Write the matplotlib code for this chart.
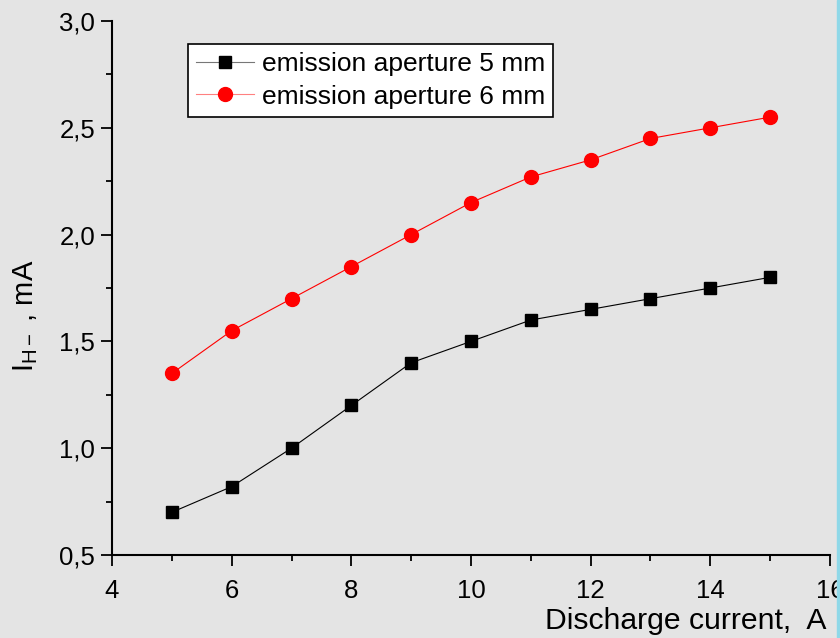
import matplotlib
matplotlib.use("Agg")
import matplotlib.pyplot as plt

plt.rcParams['font.family'] = ['Liberation Sans', 'DejaVu Sans']
plt.rcParams['mathtext.fontset'] = 'custom'
plt.rcParams['mathtext.rm'] = 'Liberation Sans'
plt.rcParams['mathtext.it'] = 'Liberation Sans'

current = [5, 6, 7, 8, 9, 10, 11, 12, 13, 14, 15]
ih_5mm = [0.70, 0.82, 1.00, 1.20, 1.40, 1.50, 1.60, 1.65, 1.70, 1.75, 1.80]
ih_6mm = [1.35, 1.55, 1.70, 1.85, 2.00, 2.15, 2.27, 2.35, 2.45, 2.50, 2.55]
xticks = [4, 6, 8, 10, 12, 14, 16]
yticks = [0.5, 1.0, 1.5, 2.0, 2.5, 3.0]
ytick_labels = ['0,5', '1,0', '1,5', '2,0', '2,5', '3,0']

bg = '#e4e4e4'
W, H = 840, 638
fig = plt.figure(figsize=(8.4, 6.38), dpi=100, facecolor=bg)
ax = fig.add_axes([112/W, 83/H, 718/W, 534/H], facecolor=bg)

ax.plot(current, ih_5mm, color='black', lw=0.8, marker='s', ms=8.5,
        mfc='black', mec='black', label='emission aperture 5 mm')
ax.plot(current, ih_6mm, color='red', lw=0.8, marker='o', ms=10,
        mfc='red', mec='red', label='emission aperture 6 mm')

ax.set_xlim(4, 16)
ax.set_ylim(0.5, 3.0)
ax.set_xticks(xticks)
ax.set_xticklabels([str(t) for t in xticks])
ax.set_yticks(yticks)
ax.set_yticklabels(ytick_labels)
ax.set_xticks([5, 7, 9, 11, 13, 15], minor=True)
ax.set_yticks([0.75, 1.25, 1.75, 2.25, 2.75], minor=True)
ax.tick_params(which='major', direction='out', length=8, width=1.3, labelsize=18.5, pad=4)
ax.tick_params(axis='x', which='major', pad=9)
ax.tick_params(which='minor', direction='out', length=4, width=1.3)
for s in ['top', 'right']:
    ax.spines[s].set_visible(False)
for s in ['left', 'bottom']:
    ax.spines[s].set_linewidth(1.5)

fig.text(26/W, 1 - 316/H, r'I$_{\mathregular{H-}}$ , mA', fontsize=21,
         rotation=90, ha='center', va='center')
fig.text(545/W, 1 - 629/H, 'Discharge current,  A', fontsize=21.7,
         ha='left', va='baseline')

leg = ax.legend(loc='upper left', bbox_to_anchor=((188-112)/718, 1 - (44-21)/534),
                fontsize=19, frameon=True, fancybox=False, edgecolor='black',
                framealpha=1, borderpad=0.3, handlelength=2.2, handletextpad=0.3,
                labelspacing=0.33, borderaxespad=0)
leg.get_frame().set_linewidth(1.2)
legend_line_colors = ['#777777', '#ff8080']
for line, c in zip(leg.get_lines(), legend_line_colors):
    line.set_color(c)
    line.set_markerfacecolor('black' if c == '#777777' else 'red')
    line.set_markeredgecolor('black' if c == '#777777' else 'red')

# cyan strip at right edge
fig.patches.append(plt.Rectangle((837/W, 0), 3/W, 1, transform=fig.transFigure,
                                 color='#8fd8e8', zorder=10))

fig.savefig('out.png', dpi=100, facecolor=bg)
